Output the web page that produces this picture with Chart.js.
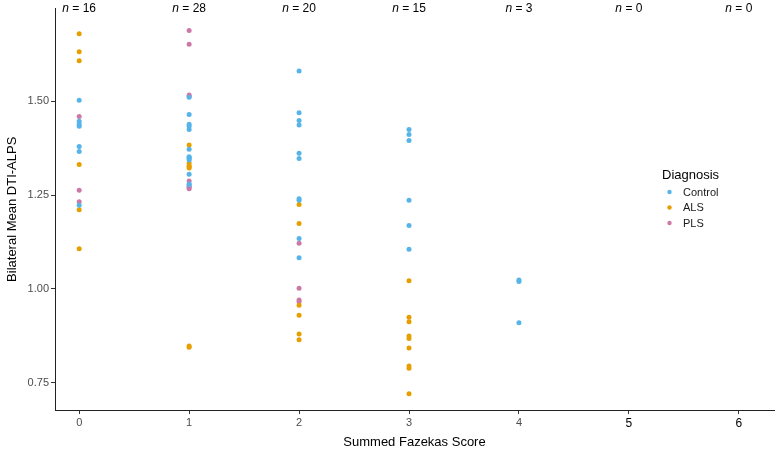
<!DOCTYPE html>
<html>
<head>
<meta charset="utf-8">
<script src="https://cdn.jsdelivr.net/npm/chart.js@4.4.1/dist/chart.umd.min.js"></script>
<style>
  html, body { margin: 0; padding: 0; background: #fff; }
  canvas { display: block; }
</style>
</head>
<body>
<canvas id="chart" width="777" height="456"></canvas>
<script>
// Summed Fazekas score categories and the n per score shown at the top
const fazekasScores = [0, 1, 2, 3, 4, 5, 6];
const nCounts = [16, 28, 20, 15, 3, 0, 0];
const yTickValues = [0.75, 1.00, 1.25, 1.50];

// Control
const controlScore = [0,0,0,0,0,0,0, 1,1,1,1,1,1,1,1,1,1,1,1,1, 2,2,2,2,2,2,2,2,2,2, 3,3,3,3,3,3, 4,4,4];
const controlAlps = [1.502,1.446,1.438,1.433,1.379,1.366,1.223,
  1.510,1.464,1.438,1.433,1.424,1.372,1.352,1.350,1.347,1.343,1.305,1.279,1.277,
  1.580,1.469,1.448,1.436,1.361,1.347,1.240,1.236,1.134,1.083,
  1.424,1.411,1.395,1.236,1.169,1.106,
  1.024,1.020,0.910];

// ALS
const alsScore = [0,0,0,0,0,0, 1,1,1,1,1,1,1, 2,2,2,2,2,2, 3,3,3,3,3,3,3,3,3];
const alsAlps = [1.679,1.631,1.607,1.331,1.211,1.107,
  1.383,1.335,1.328,1.325,1.322,0.848,0.845,
  1.225,1.174,0.957,0.930,0.880,0.865,
  1.022,0.925,0.913,0.875,0.868,0.843,0.795,0.789,0.721];

// PLS
const plsScore = [0,0,0, 1,1,1,1,1,1,1,1, 2,2,2,2];
const plsAlps = [1.459,1.263,1.232,
  1.688,1.651,1.516,1.513,1.287,1.273,1.270,1.267,
  1.122,1.002,0.971,0.966];

const groups = ['Control', 'ALS', 'PLS'];
const groupColors = ['#56B4E9', '#E69F00', '#CC79A7'];

const zip = (xs, ys) => xs.map((x, i) => ({ x: x, y: ys[i] }));

const FONT = "'Liberation Sans', Arial, sans-serif";

// n = .. labels above each column plus the legend on the right
const annotations = {
  id: 'annotations',
  afterDraw(chart) {
    const ctx = chart.ctx;
    const xs = chart.scales.x;
    ctx.save();
    ctx.fillStyle = '#000';
    ctx.textBaseline = 'middle';
    fazekasScores.forEach((s, i) => {
      const cx = xs.getPixelForValue(s);
      const rest = ' = ' + nCounts[i];
      ctx.font = 'italic 12px ' + FONT;
      const wn = ctx.measureText('n').width;
      ctx.font = '12px ' + FONT;
      const wr = ctx.measureText(rest).width;
      const left = cx - (wn + wr) / 2;
      ctx.textAlign = 'left';
      ctx.font = 'italic 12px ' + FONT;
      ctx.fillText('n', left, 9);
      ctx.font = '12px ' + FONT;
      ctx.fillText(rest, left + wn, 9);
    });

    // legend
    ctx.textAlign = 'left';
    ctx.font = '13px ' + FONT;
    ctx.fillStyle = '#000';
    ctx.fillText('Diagnosis', 662, 175);
    ctx.font = '11px ' + FONT;
    groups.forEach((g, i) => {
      const y = 192 + i * 15.5;
      ctx.fillStyle = groupColors[i];
      ctx.beginPath();
      ctx.arc(669.5, y, 2.2, 0, Math.PI * 2);
      ctx.fill();
      ctx.fillStyle = '#1a1a1a';
      ctx.fillText(g, 683, y + 0.5);
    });
    ctx.restore();
  }
};

new Chart(document.getElementById('chart'), {
  type: 'scatter',
  data: {
    datasets: [
      { label: 'Control', data: zip(controlScore, controlAlps), backgroundColor: groupColors[0] },
      { label: 'ALS', data: zip(alsScore, alsAlps), backgroundColor: groupColors[1] },
      { label: 'PLS', data: zip(plsScore, plsAlps), backgroundColor: groupColors[2] }
    ]
  },
  options: {
    responsive: false,
    animation: false,
    layout: { padding: 0 },
    elements: { point: { radius: 2.5, borderWidth: 0, hoverRadius: 3 } },
    plugins: { legend: { display: false }, tooltip: { enabled: false } },
    scales: {
      x: {
        type: 'linear',
        min: -0.22,
        max: 6.32,
        afterBuildTicks: (s) => { s.ticks = fazekasScores.map(v => ({ value: v })); },
        afterFit: (s) => { s.height = 46; },
        grid: { display: true, drawOnChartArea: false, tickLength: 4, color: '#333' },
        border: { display: true, color: '#222', width: 1 },
        ticks: {
          padding: 2,
          color: (c) => c.tick && c.tick.value >= 5 ? '#000' : '#4D4D4D',
          font: (c) => ({ family: FONT, size: c.tick && c.tick.value >= 5 ? 12 : 11 }),
          callback: (v) => String(v)
        },
        title: {
          display: true,
          text: 'Summed Fazekas Score',
          color: '#000',
          font: { family: FONT, size: 13 },
          padding: { top: 4, bottom: 6 }
        }
      },
      y: {
        min: 0.678,
        max: 1.746,
        afterBuildTicks: (s) => { s.ticks = yTickValues.map(v => ({ value: v })); },
        afterFit: (s) => { s.width = 55; },
        grid: { display: true, drawOnChartArea: false, tickLength: 4, color: '#333' },
        border: { display: true, color: '#222', width: 1 },
        ticks: {
          padding: 2,
          color: '#4D4D4D',
          font: { family: FONT, size: 11 },
          callback: (v) => Number(v).toFixed(2)
        },
        title: {
          display: true,
          text: 'Bilateral Mean DTI-ALPS',
          color: '#000',
          font: { family: FONT, size: 13 },
          padding: { top: 5, bottom: 4 }
        }
      }
    }
  },
  plugins: [annotations]
});
</script>
</body>
</html>
